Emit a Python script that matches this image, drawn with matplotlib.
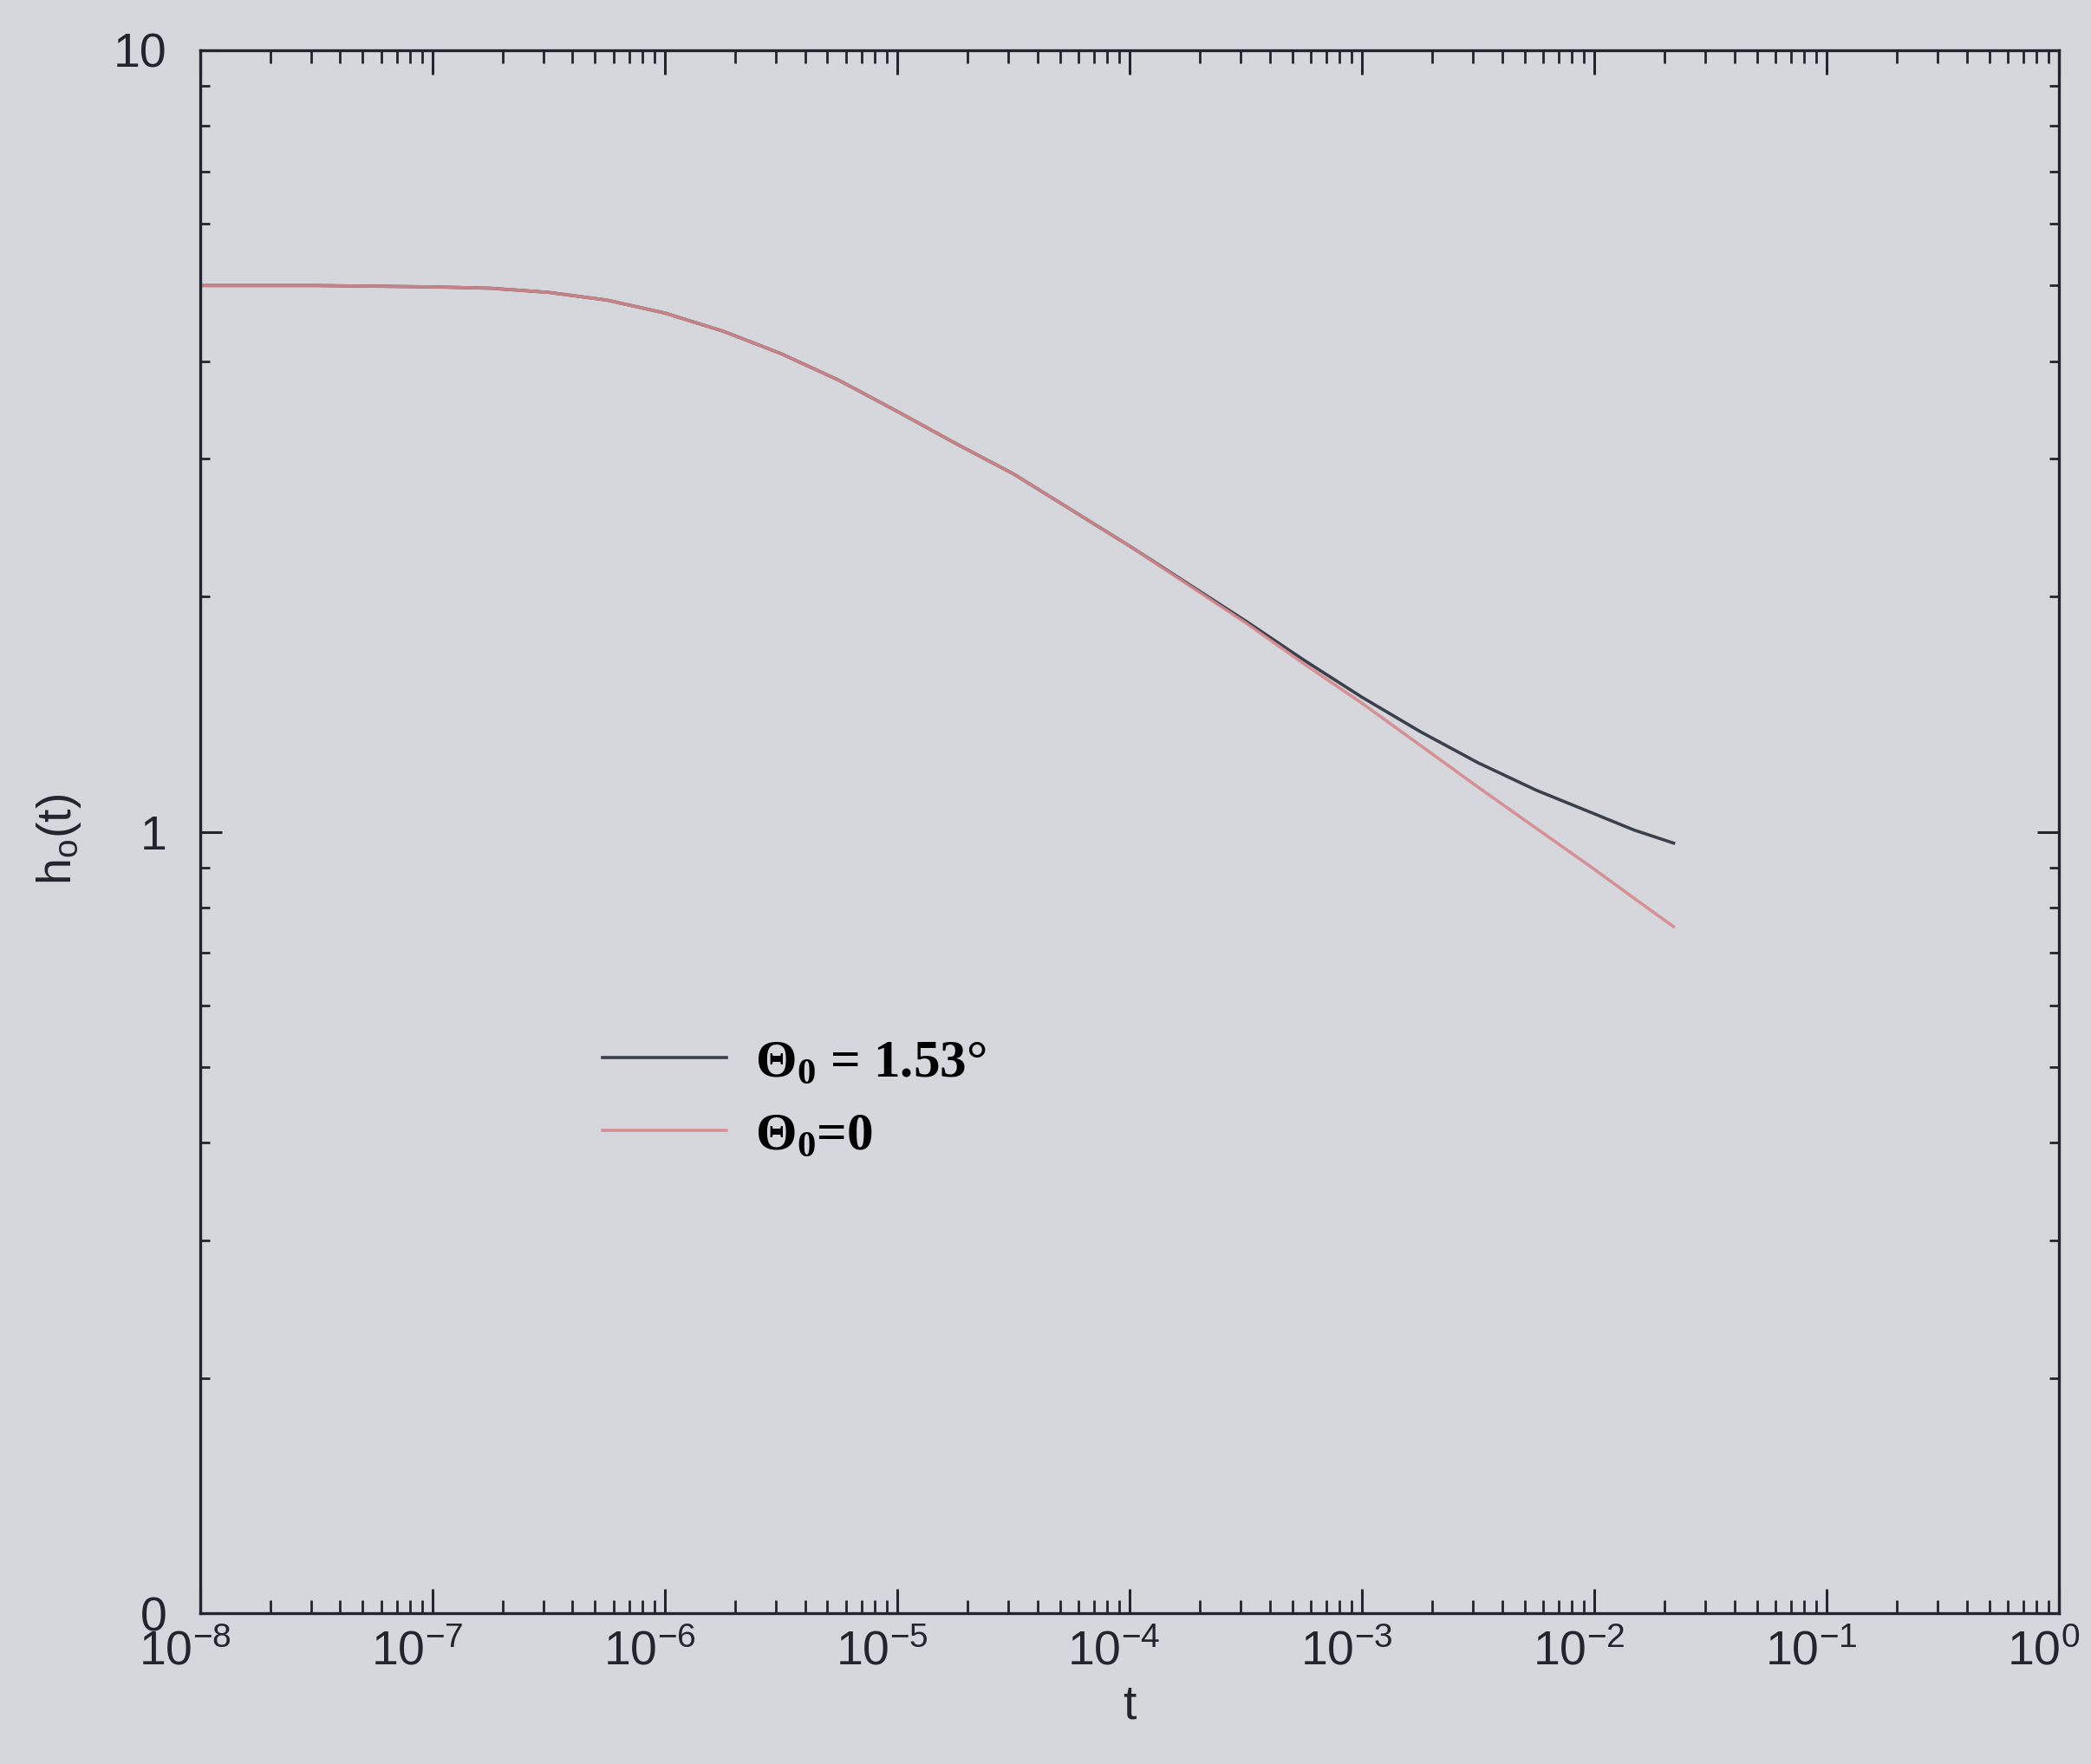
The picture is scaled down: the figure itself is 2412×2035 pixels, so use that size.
import matplotlib
matplotlib.use('Agg')
import matplotlib.pyplot as plt
from matplotlib.ticker import LogLocator, NullFormatter, FixedLocator, FixedFormatter
from matplotlib.transforms import ScaledTranslation

# ---- data ----
t = [1e-8, 3.16e-8, 1e-7, 1.78e-7, 3.16e-7, 5.62e-7, 1e-6, 1.78e-6, 3.16e-6,
     5.62e-6, 1e-5, 1.78e-5, 3.16e-5, 1e-4, 3.16e-4, 5.62e-4, 1e-3, 1.78e-3,
     3.16e-3, 5.62e-3, 1e-2, 1.48e-2, 2.19e-2]
h_theta0 = [5.00, 5.00, 4.98, 4.96, 4.90, 4.79, 4.61, 4.37, 4.09, 3.78, 3.45,
            3.14, 2.87, 2.32, 1.85, 1.64, 1.46, 1.29, 1.14, 1.01, 0.895, 0.822, 0.756]
h_theta153 = [5.00, 5.00, 4.98, 4.96, 4.90, 4.79, 4.61, 4.37, 4.09, 3.78, 3.45,
              3.14, 2.87, 2.32, 1.86, 1.658, 1.486, 1.343, 1.225, 1.130, 1.054, 1.005, 0.967]
labels = [r'$\Theta_0$ = 1.53°', r'$\Theta_0$=0']
xticks = [1e-8, 1e-7, 1e-6, 1e-5, 1e-4, 1e-3, 1e-2, 1e-1, 1e0]
xticklabels = [r'$\mathregular{10^{-8}}$', r'$\mathregular{10^{-7}}$', r'$\mathregular{10^{-6}}$',
               r'$\mathregular{10^{-5}}$', r'$\mathregular{10^{-4}}$', r'$\mathregular{10^{-3}}$',
               r'$\mathregular{10^{-2}}$', r'$\mathregular{10^{-1}}$', r'$\mathregular{10^{0}}$']
yticks = [0.1, 1, 10]
yticklabels = ['0', '1', '10']

plt.rcParams['font.family'] = ['Liberation Sans', 'DejaVu Sans']
plt.rcParams['mathtext.fontset'] = 'custom'
plt.rcParams['mathtext.rm'] = 'Liberation Serif:bold'
plt.rcParams['mathtext.it'] = 'Liberation Serif:bold'
plt.rcParams['mathtext.bf'] = 'Liberation Serif:bold'

bg = '#d5d7dc'
ink = '#22252d'

fig = plt.figure(figsize=(12.06, 10.175), dpi=200, facecolor=bg)
ax = fig.add_axes([0.0958, 0.0855, 0.889, 0.886], facecolor=bg)

l1, = ax.plot(t, h_theta153, color='#3b404c', lw=1.3)
l2, = ax.plot(t, h_theta0, color='#d68a8e', lw=1.3, alpha=0.9)

ax.set_xscale('log')
ax.set_yscale('log')
ax.set_xlim(1e-8, 1)
ax.set_ylim(0.1, 10)

ax.xaxis.set_major_locator(FixedLocator(xticks))
ax.xaxis.set_major_formatter(FixedFormatter(xticklabels))
ax.xaxis.set_minor_locator(LogLocator(base=10, subs=range(2, 10), numticks=100))
ax.xaxis.set_minor_formatter(NullFormatter())
ax.yaxis.set_major_locator(FixedLocator(yticks))
ax.yaxis.set_major_formatter(FixedFormatter(yticklabels))
ax.yaxis.set_minor_locator(LogLocator(base=10, subs=range(2, 10), numticks=100))
ax.yaxis.set_minor_formatter(NullFormatter())

ax.tick_params(axis='both', which='both', direction='in', top=True, right=True,
               colors=ink, labelsize=20)
ax.tick_params(axis='x', which='major', length=10, width=1.1, pad=7)
ax.tick_params(axis='x', which='minor', length=5.5, width=1.0)
ax.tick_params(axis='y', which='major', length=9, width=1.1, pad=14)
ax.tick_params(axis='y', which='minor', length=4, width=1.0)
for s in ax.spines.values():
    s.set_linewidth(1.2)
    s.set_color(ink)

# x tick labels sit slightly left of their ticks in the original
shift = ScaledTranslation(-0.09, 0, fig.dpi_scale_trans)
for lab in ax.get_xticklabels():
    lab.set_transform(lab.get_transform() + shift)

ax.set_xlabel('t', fontsize=20, color=ink)
ax.xaxis.set_label_coords(0.5, -0.045)
ax.set_ylabel(r'$\mathregular{h_o(t)}$', fontsize=20, color=ink)
ax.yaxis.set_label_coords(-0.063, 0.495)

ax.legend([l1, l2], labels, loc='center left', bbox_to_anchor=(0.2163, 0.3285),
          frameon=False, borderpad=0, borderaxespad=0, handlelength=2.34,
          handletextpad=0.55, labelspacing=0.46,
          prop={'family': 'Liberation Serif', 'weight': 'bold', 'size': 22})

fig.savefig('out.png', dpi=200, facecolor=bg)
